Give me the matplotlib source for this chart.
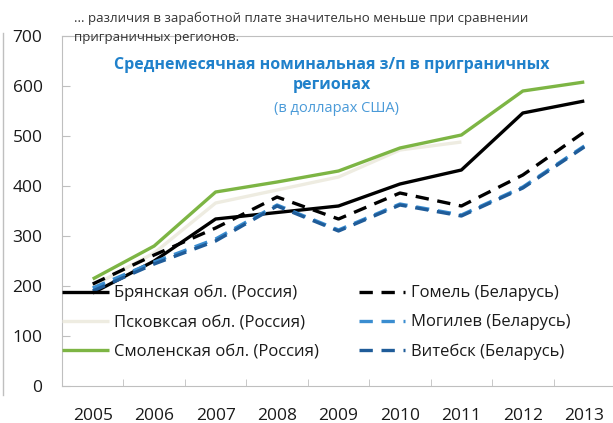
import numpy as np
import matplotlib.pyplot as plt
from matplotlib.lines import Line2D

plt.rcParams['font.family'] = ['Open Sans', 'DejaVu Sans']

years = ['2005', '2006', '2007', '2008', '2009', '2010', '2011', '2012', '2013']

bryansk = [186, 250, 334, 347, 360, 404, 432, 546, 570]
pskov = [200, 266, 366, 392, 418, 472, 488, None, None]
smolensk = [214, 280, 388, 408, 430, 476, 502, 590, 608]
gomel = [204, 262, 316, 378, 334, 386, 360, 422, 508]
mogilev = [196, 248, 294, 362, 312, 364, 342, 398, 480]
vitebsk = [190, 244, 290, 360, 310, 362, 340, 396, 478]

series = [
    ('Брянская обл. (Россия)', bryansk, '#000000', '-'),
    ('Псковксая обл. (Россия)', pskov, '#EEECE1', '-'),
    ('Смоленская обл. (Россия)', smolensk, '#7DB544', '-'),
    ('Гомель (Беларусь)', gomel, '#000000', '--'),
    ('Могилев (Беларусь)', mogilev, '#3A8DD0', '--'),
    ('Витебск (Беларусь)', vitebsk, '#1F5C99', '--'),
]


def main():
    fig = plt.figure(figsize=(6.13, 4.23), dpi=100)
    ax = fig.add_axes([62 / 613, 37 / 423, 553 / 613, 350 / 423])

    x = np.arange(len(years))
    handles = []
    for name, vals, color, ls in series:
        y = np.array([np.nan if v is None else v for v in vals], dtype=float)
        line, = ax.plot(x, y, color=color, lw=2.4, ls=ls, label=name,
                        solid_capstyle='butt', dash_capstyle='butt')
        if ls == '--':
            line.set_dashes((4, 2.6))
        handles.append(line)

    ax.set_xlim(-0.5, len(years) - 0.5)
    ax.set_ylim(0, 700)
    ax.set_yticks(range(0, 701, 100))
    ax.set_xticks(x)
    ax.set_xticklabels(years)
    ax.set_xticks(np.arange(-0.5, len(years), 1), minor=True)

    ax.tick_params(axis='x', which='major', length=0, pad=16, labelsize=12.5,
                   labelcolor='#1a1a1a')
    ax.tick_params(axis='x', which='minor', direction='in', length=5, color='#bfbfbf')
    ax.tick_params(axis='y', direction='in', length=6, color='#bfbfbf', pad=14,
                   labelsize=12.5, labelcolor='#1a1a1a')

    for side in ['left', 'bottom', 'top']:
        ax.spines[side].set_color('#bfbfbf')
        ax.spines[side].set_linewidth(0.8)
    ax.spines['right'].set_visible(False)

    # legend
    ax.legend(handles=handles, ncol=2, loc='upper left',
              bbox_to_anchor=(62 / 613, 1 - 285 / 423), bbox_transform=fig.transFigure,
              frameon=False, fontsize=12, handlelength=2.8, handletextpad=0.35,
              labelspacing=0.78, columnspacing=2.35, borderaxespad=0, borderpad=0,
              labelcolor='#1a1a1a')

    # header texts
    fig.text(74 / 613, 1 - 28 / 423, '... различия в заработной плате значительно меньше при сравнении\nприграничных регионов.',
             fontsize=9.5, color='#333333', va='center', ha='left', linespacing=1.6)
    fig.text(332 / 613, 1 - 75 / 423, 'Среднемесячная номинальная з/п в приграничных\nрегионах',
             fontsize=11.5, fontweight='bold', color='#2081CB', ha='center', va='center',
             linespacing=1.35)
    fig.text(337 / 613, 1 - 108 / 423, '(в долларах США)', fontsize=10.5, color='#4A9AD8',
             ha='center', va='center')

    # slide frame line at the left
    fig.add_artist(Line2D([3 / 613, 3 / 613], [1 - 33 / 423, 1 - 395 / 423],
                          transform=fig.transFigure, color='#bfbfbf', lw=1))

    fig.savefig('out.png', dpi=100)


if __name__ == '__main__':
    main()
